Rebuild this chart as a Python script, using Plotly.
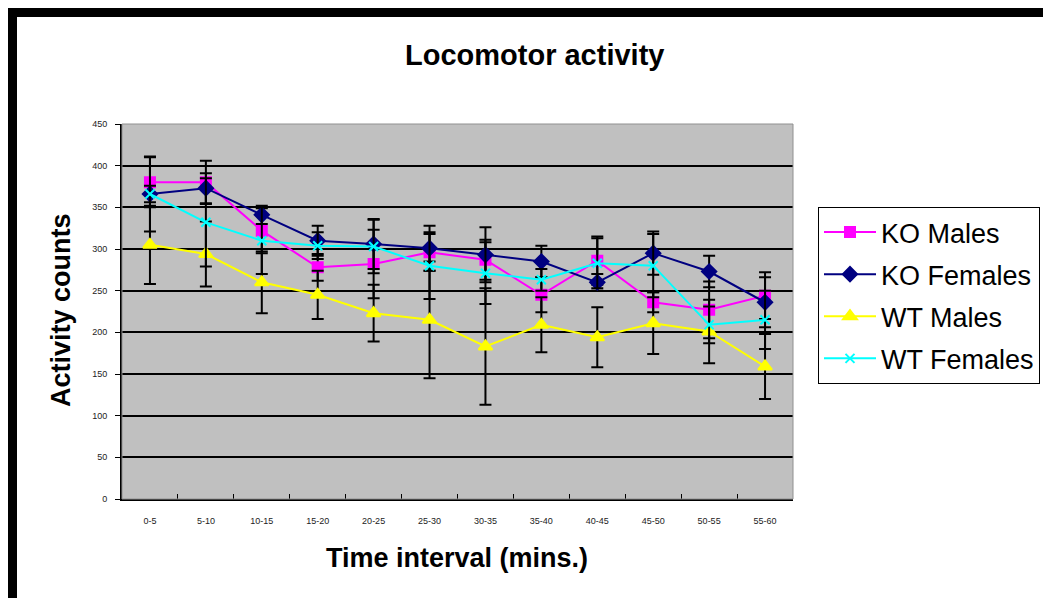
import plotly.graph_objects as go

categories = ["0-5", "5-10", "10-15", "15-20", "20-25", "25-30", "30-35",
              "35-40", "40-45", "45-50", "50-55", "55-60"]

ko_males = [380, 380, 322, 278, 282, 296, 287, 245, 286, 236, 227, 244]
ko_males_err = [30, 26, 27, 16, 41, 22, 24, 21, 29, 12, 34, 28]

ko_females = [366, 373, 341, 310, 306, 301, 293, 285, 260, 295, 273, 236]
ko_females_err = [45, 18, 11, 18, 30, 27, 33, 19, 10, 26, 19, 30]

wt_males = [305, 294, 260, 245, 223, 215, 183, 209, 194, 211, 201, 159]
wt_males_err = [47, 39, 37, 29, 34, 70, 70, 33, 36, 37, 38, 39]

wt_females = [366, 332, 310, 304, 303, 280, 271, 263, 283, 280, 209, 215]
wt_females_err = [10, 53, 40, 16, 32, 40, 37, 13, 30, 38, 22, 35]

series = [
    ("KO Males", ko_males, ko_males_err, "#FF00FF", "square", 10),
    ("KO Females", ko_females, ko_females_err, "#000080", "diamond", 11),
    ("WT Males", wt_males, wt_males_err, "#FFFF00", "triangle-up", 12),
    ("WT Females", wt_females, wt_females_err, "#00FFFF", "x-thin", 9),
]

FONT = "Arial, Liberation Sans, sans-serif"

fig = go.Figure()
for i, (name, vals, errs, col, sym, size) in enumerate(series):
    fig.add_trace(go.Scatter(
        x=categories, y=vals, name=name, mode="lines+markers",
        line=dict(color=col, width=2),
        marker=dict(symbol=sym, size=size, color=col,
                    line=dict(color=col, width=2)),
        error_y=dict(type="data", array=errs, visible=True,
                     color="black", thickness=2, width=6),
        legendgroup="g%d" % i,
    ))

# The page body has an 8px margin, so the figure sits at (8, 8) on screen.
# Keep the figure (and everything drawn) inside the viewport to avoid scrollbars.
OFF = 8
W, H = 1051 - 2 * OFF, 606 - 2 * OFF
L, R, T, B = 122 - OFF, 793 - OFF, 124 - OFF, 499 - OFF
pw, ph = R - L, B - T


def px(x):
    """screen x -> paper x (clamped to the figure)"""
    fx = min(max(x - OFF, 0), W)
    return (fx - L) / pw


def py(y):
    """screen y -> paper y (clamped to the figure)"""
    fy = min(max(y - OFF, 0), H)
    return (B - fy) / ph


shapes = [
    dict(type="rect", xref="paper", yref="paper", x0=0, x1=1, y0=0, y1=1,
         line=dict(color="#909090", width=1), layer="above"),
    dict(type="rect", xref="paper", yref="paper", x0=px(7), x1=px(1051),
         y0=py(17), y1=py(0), fillcolor="black", line=dict(width=0)),
    dict(type="rect", xref="paper", yref="paper", x0=px(0), x1=px(17),
         y0=py(606), y1=py(0), fillcolor="black", line=dict(width=0)),
]

annotations = [
    dict(text="<b>Activity counts</b>", xref="paper", yref="paper",
         x=px(61), y=py(310), textangle=-90, showarrow=False,
         xanchor="center", yanchor="middle",
         font=dict(family=FONT, size=27, color="black")),
    dict(text="<b>Time interval (mins.)</b>", xref="paper", yref="paper",
         x=px(457), y=py(558), showarrow=False,
         xanchor="center", yanchor="middle",
         font=dict(family=FONT, size=27, color="black")),
    dict(text="<b>Locomotor activity</b>", xref="paper", yref="paper",
         x=px(534), y=py(55), showarrow=False,
         xanchor="center", yanchor="middle",
         font=dict(family=FONT, size=29, color="black")),
]

fig.update_layout(
    width=W, height=H,
    margin=dict(l=L, r=W - R, t=T, b=H - B, autoexpand=False),
    paper_bgcolor="white",
    plot_bgcolor="#C0C0C0",
    xaxis=dict(
        type="category", range=[-0.5, 11.5], showgrid=False,
        showline=True, linecolor="black", linewidth=2,
        ticks="inside", tickson="boundaries", ticklen=5, tickcolor="black",
        tickwidth=1, tickfont=dict(family=FONT, size=9, color="#222"),
        ticklabelstandoff=12, zeroline=False,
    ),
    yaxis=dict(
        range=[0, 450], dtick=50, showgrid=True, gridcolor="black",
        gridwidth=2, showline=True, linecolor="black", linewidth=2,
        ticks="outside", ticklen=5, tickcolor="black", tickwidth=1,
        tickfont=dict(family=FONT, size=9, color="#222"),
        ticklabelstandoff=6, zeroline=False,
    ),
    legend=dict(
        xref="container", yref="container",
        x=(818 - OFF) / W, y=1 - (207 - OFF) / H,
        xanchor="left", yanchor="top",
        bgcolor="white", bordercolor="black", borderwidth=1,
        font=dict(family=FONT, size=27, color="black"),
        tracegroupgap=4, itemwidth=52,
    ),
    shapes=shapes,
    annotations=annotations,
    showlegend=True,
)

fig.write_html("out.html")
